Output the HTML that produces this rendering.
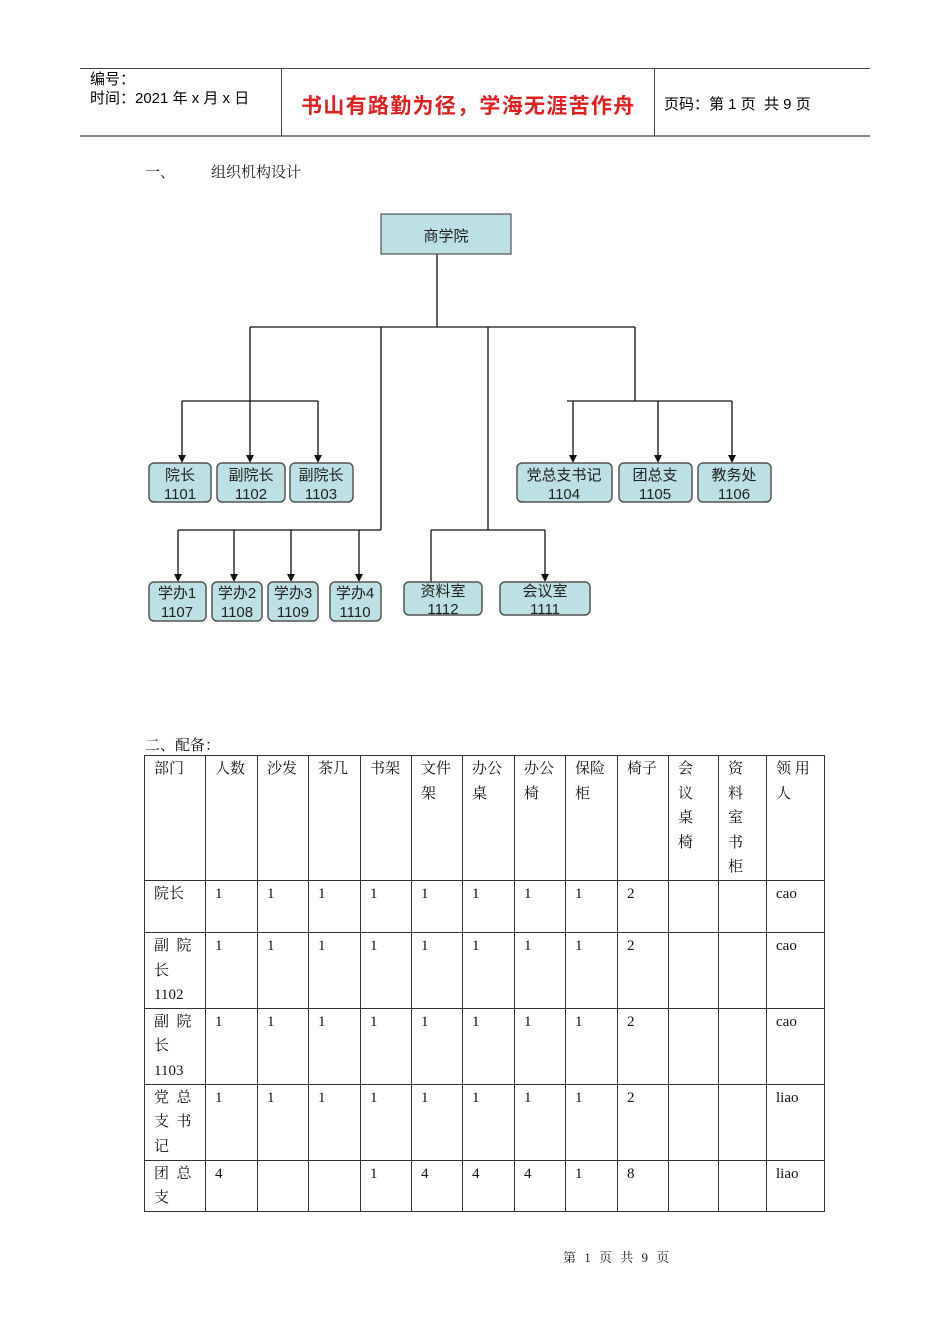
<!DOCTYPE html>
<html><head><meta charset="utf-8"><style>
body{margin:0;background:#fff;width:950px;height:1344px;position:relative;overflow:hidden;font-family:"Liberation Sans","Noto Sans CJK SC",sans-serif;}
.a{position:absolute;white-space:nowrap;}
table{position:absolute;left:144px;top:755px;border-collapse:collapse;table-layout:fixed;font-family:"Liberation Serif","Noto Serif CJK SC",serif;font-size:15px;line-height:24.6px;color:#111;}
td{border:1px solid #333;vertical-align:top;padding:1px 0 0 9px;overflow:hidden;}
</style></head><body>
<div class="a" style="left:80px;top:68px;width:790px;height:0;border-top:1px solid #444"></div>
<div class="a" style="left:80px;top:135px;width:790px;height:0;border-top:2px solid #888"></div>
<div class="a" style="left:281px;top:68px;height:68px;border-left:1px solid #444"></div>
<div class="a" style="left:654px;top:68px;height:68px;border-left:1px solid #444"></div>
<div class="a" style="left:90px;top:70px;font-size:15px;line-height:19px">编号：<br>时间：2021 年 x 月 x 日</div>
<div class="a" style="left:301px;top:90px;font-size:21px;letter-spacing:1.3px;color:#e02020;font-weight:bold;font-family:'Noto Sans CJK SC',sans-serif">书山有路勤为径，学海无涯苦作舟</div>
<div class="a" style="left:664px;top:93px;font-size:15px">页码：第 1 页&nbsp; 共 9 页</div>
<div class="a" style="left:145px;top:161px;font-size:15px;color:#222;font-family:'Liberation Serif','Noto Serif CJK SC',serif">一、</div>
<div class="a" style="left:211px;top:161px;font-size:15px;color:#222;font-family:'Liberation Serif','Noto Serif CJK SC',serif">组织机构设计</div>

<svg class="a" style="left:0;top:0" width="950" height="700" font-family="Liberation Sans,Noto Sans CJK SC,sans-serif">
<g stroke="#111" stroke-width="1.3" fill="none">
<path d="M437,254V327M250,327H635M250,327V401M182,401H318M381,327V530M178,530H381M488,327V530M431,530H545M431,530V582M635,327V401M567,401H732"/>
<path d="M182,401V456M250,401V456M318,401V456M178,530V575M234,530V575M291,530V575M359,530V575M545,530V575M573,401V456M658,401V456M732,401V456"/>
</g>
<g fill="#111">
<path d="M178,463l-4,-8h8zM246,463l-4,-8h8zM314,463l-4,-8h8z" transform="translate(4,0)"/>
<path d="M174,582l-4,-8h8zM230,582l-4,-8h8zM287,582l-4,-8h8zM355,582l-4,-8h8zM541,582l-4,-8h8z" transform="translate(4,0)"/>
<path d="M569,463l-4,-8h8zM654,463l-4,-8h8zM728,463l-4,-8h8z" transform="translate(4,0)"/>
</g>
<rect x="381" y="214" width="130" height="40" fill="#bde0e4" stroke="#333"/>
<text x="446" y="241" font-size="15" text-anchor="middle" fill="#222">商学院</text>
<g fill="#bde0e4" stroke="#555" stroke-width="1.5">
<rect x="149" y="463" width="62" height="39" rx="5"/><rect x="217" y="463" width="68" height="39" rx="5"/><rect x="290" y="463" width="63" height="39" rx="5"/>
<rect x="517" y="463" width="95" height="39" rx="5"/><rect x="619" y="463" width="73" height="39" rx="5"/><rect x="698" y="463" width="73" height="39" rx="5"/>
<rect x="149" y="582" width="57" height="39" rx="5"/><rect x="212" y="582" width="50" height="39" rx="5"/><rect x="268" y="582" width="50" height="39" rx="5"/><rect x="330" y="582" width="51" height="39" rx="5"/>
<rect x="404" y="582" width="78" height="33" rx="5"/><rect x="500" y="582" width="90" height="33" rx="5"/>
</g>
<g font-size="15" text-anchor="middle" fill="#222">
<text x="180" y="480">院长</text><text x="180" y="499">1101</text>
<text x="251" y="480">副院长</text><text x="251" y="499">1102</text>
<text x="321" y="480">副院长</text><text x="321" y="499">1103</text>
<text x="564" y="480">党总支书记</text><text x="564" y="499">1104</text>
<text x="655" y="480">团总支</text><text x="655" y="499">1105</text>
<text x="734" y="480">教务处</text><text x="734" y="499">1106</text>
<text x="177" y="598">学办1</text><text x="177" y="617">1107</text>
<text x="237" y="598">学办2</text><text x="237" y="617">1108</text>
<text x="293" y="598">学办3</text><text x="293" y="617">1109</text>
<text x="355" y="598">学办4</text><text x="355" y="617">1110</text>
<text x="443" y="596">资料室</text><text x="443" y="614">1112</text>
<text x="545" y="596">会议室</text><text x="545" y="614">1111</text>
</g>
</svg>

<div class="a" style="left:145px;top:734px;font-size:15px;color:#111;font-family:'Liberation Serif','Noto Serif CJK SC',serif">二、配备：</div>
<table>
<colgroup><col style="width:61px"><col style="width:52px"><col style="width:51px"><col style="width:52px"><col style="width:51px"><col style="width:51px"><col style="width:52px"><col style="width:51px"><col style="width:52px"><col style="width:51px"><col style="width:50px"><col style="width:48px"><col style="width:58px"></colgroup>
<tr style="height:125px"><td>部门</td><td>人数</td><td>沙发</td><td>茶几</td><td>书架</td><td>文件<br>架</td><td>办公<br>桌</td><td>办公<br>椅</td><td>保险<br>柜</td><td>椅子</td><td>会<br>议<br>桌<br>椅</td><td>资<br>料<br>室<br>书<br>柜</td><td>领 用<br>人</td></tr>
<tr style="height:52px"><td>院长</td><td>1</td><td>1</td><td>1</td><td>1</td><td>1</td><td>1</td><td>1</td><td>1</td><td>2</td><td></td><td></td><td>cao</td></tr>
<tr style="height:75px"><td>副&nbsp;&nbsp;院<br>长<br>1102</td><td>1</td><td>1</td><td>1</td><td>1</td><td>1</td><td>1</td><td>1</td><td>1</td><td>2</td><td></td><td></td><td>cao</td></tr>
<tr style="height:76px"><td>副&nbsp;&nbsp;院<br>长<br>1103</td><td>1</td><td>1</td><td>1</td><td>1</td><td>1</td><td>1</td><td>1</td><td>1</td><td>2</td><td></td><td></td><td>cao</td></tr>
<tr style="height:76px"><td>党&nbsp;&nbsp;总<br>支&nbsp;&nbsp;书<br>记</td><td>1</td><td>1</td><td>1</td><td>1</td><td>1</td><td>1</td><td>1</td><td>1</td><td>2</td><td></td><td></td><td>liao</td></tr>
<tr style="height:50px"><td>团&nbsp;&nbsp;总<br>支</td><td>4</td><td></td><td></td><td>1</td><td>4</td><td>4</td><td>4</td><td>1</td><td>8</td><td></td><td></td><td>liao</td></tr>
</table>
<div class="a" style="left:563px;top:1247px;font-size:13px;letter-spacing:1px;word-spacing:3px;color:#222;font-family:'Liberation Serif','Noto Serif CJK SC',serif">第 1 页 共 9 页</div>
</body></html>
